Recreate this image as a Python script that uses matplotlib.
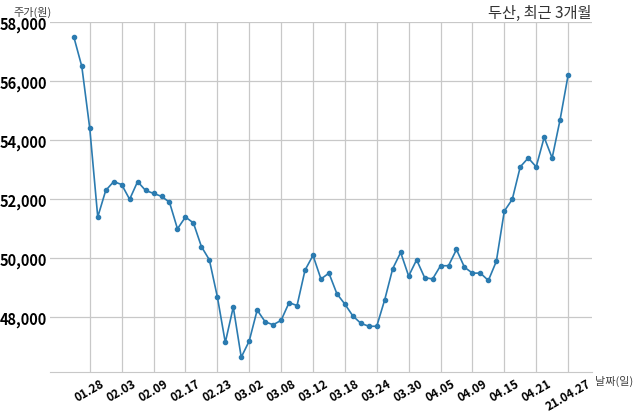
import matplotlib
matplotlib.use('Agg')
import matplotlib.pyplot as plt
from matplotlib.ticker import FuncFormatter

plt.rcParams['font.family'] = ['Noto Sans CJK KR', 'DejaVu Sans']

# trading days, 2021-01-26 .. 2021-04-27
dates = ['01.26', '01.27', '01.28', '01.29', '02.01', '02.02', '02.03', '02.04', '02.05',
         '02.08', '02.09', '02.10', '02.15', '02.16', '02.17', '02.18', '02.19',
         '02.22', '02.23', '02.24', '02.25', '02.26', '03.02', '03.03', '03.04', '03.05',
         '03.08', '03.09', '03.10', '03.11', '03.12', '03.15', '03.16', '03.17', '03.18',
         '03.19', '03.22', '03.23', '03.24', '03.25', '03.26', '03.29', '03.30', '03.31',
         '04.01', '04.02', '04.05', '04.06', '04.07', '04.08', '04.09', '04.12', '04.13',
         '04.14', '04.15', '04.16', '04.19', '04.20', '04.21', '04.22', '04.23', '04.26',
         '21.04.27']

prices = [57500, 56500, 54400, 51400, 52300, 52600, 52500, 52000, 52600,
          52300, 52200, 52100, 51900, 51000, 51400, 51200, 50400,
          49950, 48700, 47150, 48350, 46650, 47200, 48250, 47850, 47750,
          47900, 48500, 48400, 49600, 50100, 49300, 49500, 48800, 48450,
          48050, 47800, 47700, 47700, 48600, 49650, 50200, 49400, 49950,
          49350, 49300, 49750, 49750, 50300, 49700, 49500, 49500, 49250,
          49900, 51600, 52000, 53100, 53400, 53100, 54100, 53400, 54700,
          56200]

x = list(range(len(prices)))
tick_idx = list(range(2, len(prices), 4))

fig = plt.figure(figsize=(6.4, 4.14), dpi=100)
ax = fig.add_axes([0.078, 0.099, 0.847, 0.845])

ax.plot(x, prices, color='#2b7bb0', linewidth=1.2, marker='o', markersize=3)

ax.set_xlim(-3, len(prices) + 2)
ax.set_ylim(46150, 58000)
ax.set_yticks([48000, 50000, 52000, 54000, 56000, 58000])
ax.yaxis.set_major_formatter(FuncFormatter(lambda v, p: f'{int(v):,}'))
ax.set_xticks(tick_idx)
ax.set_xticklabels([dates[i] for i in tick_idx], rotation=30, ha='center',
                   fontsize=8.5, fontweight='bold')
for lbl in ax.get_yticklabels():
    lbl.set_fontsize(10.5)
    lbl.set_fontweight('bold')

ax.grid(True, color='#c8c8c8', linewidth=0.9)
ax.tick_params(axis='y', length=0, pad=2)
ax.tick_params(axis='x', length=0, pad=3)
for s in ['top', 'right', 'left']:
    ax.spines[s].set_visible(False)
ax.spines['bottom'].set_color('#c8c8c8')

ax.set_title('두산, 최근 3개월', loc='right', fontsize=11, color='#333333', pad=4)
fig.text(0.021, 0.962, '주가(원)', fontsize=8, color='#444444')
fig.text(0.930, 0.070, '날짜(일)', fontsize=8, color='#444444')

plt.savefig('out.png', dpi=100)
